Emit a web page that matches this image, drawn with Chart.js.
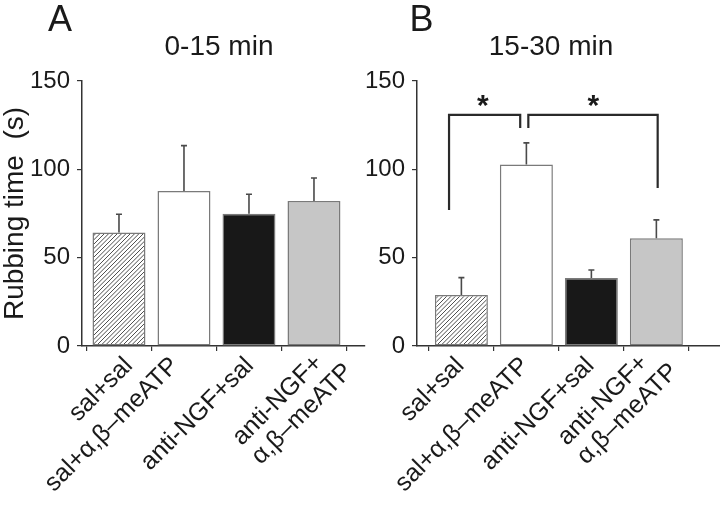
<!DOCTYPE html>
<html><head><meta charset="utf-8">
<script src="https://cdn.jsdelivr.net/npm/chart.js@4/dist/chart.umd.min.js"></script>
<style>
html,body{margin:0;padding:0;background:#fff;}
#wrap{position:relative;width:720px;height:513px;overflow:hidden;background:#fff;}
#cA{position:absolute;left:0;top:0;}
#cB{position:absolute;left:340px;top:0;}
</style></head><body>
<div id="wrap"><canvas id="cA" width="400" height="513"></canvas><canvas id="cB" width="380" height="513"></canvas></div>
<script>
// ---- data ----
const categories = ['sal+sal', 'sal+α,β–meATP', 'anti-NGF+sal', ['anti-NGF+', 'α,β–meATP']];
const panelLetters = ['A', 'B'];
const panelTitles = ['0-15 min', '15-30 min'];
const yTicks = [0, 50, 100, 150];
const yAxisTitle = 'Rubbing time  (s)';
const meansA = [64.2, 87.8, 74.9, 82.1];
const semA = [10.4, 25.6, 11.0, 13.0];
const meansB = [28.9, 102.7, 38.5, 61.0];
const semB = [9.8, 12.3, 4.5, 10.4];
const sigLabel = '*';

// ---- styling ----
const FONT = '"Liberation Sans", Arial, Helvetica, sans-serif';
const TXT = '#1a1a1a';
Chart.defaults.font.family = FONT;
Chart.defaults.color = TXT;

function hatchPattern() {
  const s = 13;
  const c = document.createElement('canvas');
  c.width = s; c.height = s;
  const g = c.getContext('2d');
  g.fillStyle = '#ffffff'; g.fillRect(0, 0, s, s);
  g.strokeStyle = '#3a3a3a'; g.lineWidth = 0.9;
  g.beginPath();
  for (let k = -1; k <= 7; k++) {
    const cc = k * s / 3;
    g.moveTo(cc + 4, -4); g.lineTo(cc - 20, 20);
  }
  g.stroke();
  return g.createPattern(c, 'repeat');
}

const fills = [hatchPattern(), '#ffffff', '#181818', '#c6c6c6'];

const overlay = {
  id: 'overlay',
  afterDatasetsDraw(chart, args, o) {
    const { ctx } = chart;
    const x = chart.scales.x, y = chart.scales.y;
    ctx.save();
    // error bars
    ctx.strokeStyle = '#4a4a4a'; ctx.lineWidth = 1.6;
    o.means.forEach((m, i) => {
      const px = x.getPixelForValue(i);
      const y0 = y.getPixelForValue(m), y1 = y.getPixelForValue(m + o.sem[i]);
      ctx.beginPath();
      ctx.moveTo(px, y0); ctx.lineTo(px, y1);
      ctx.moveTo(px - 3, y1); ctx.lineTo(px + 3, y1);
      ctx.stroke();
    });
    // significance brackets
    if (o.brackets) {
      const br = [
        { x0: -0.19, x1: 0.905, top: 130.8, l: 77, r: 123.4, star: 0.33 },
        { x0: 1.03, x1: 3.02, top: 130.8, l: 123.4, r: 89.5, star: 2.03 }
      ];
      ctx.strokeStyle = '#2a2a2a'; ctx.lineWidth = 2.2;
      br.forEach(b => {
        const X0 = x.getPixelForValue(b.x0), X1 = x.getPixelForValue(b.x1);
        const T = y.getPixelForValue(b.top);
        ctx.beginPath();
        ctx.moveTo(X0, y.getPixelForValue(b.l)); ctx.lineTo(X0, T);
        ctx.lineTo(X1, T); ctx.lineTo(X1, y.getPixelForValue(b.r));
        ctx.stroke();
        ctx.fillStyle = TXT;
        ctx.font = 'bold 30px ' + FONT;
        ctx.textAlign = 'center'; ctx.textBaseline = 'alphabetic';
        ctx.fillText(sigLabel, x.getPixelForValue(b.star), T);
      });
    }
    ctx.restore();
  },
  afterDraw(chart, args, o) {
    const ctx = chart.ctx;
    const x = chart.scales.x, y = chart.scales.y;
    ctx.save();
    ctx.fillStyle = TXT;
    ctx.textAlign = 'center'; ctx.textBaseline = 'alphabetic';
    ctx.font = '36px ' + FONT;
    ctx.fillText(o.letter, o.letterX, 31);
    ctx.font = '28px ' + FONT;
    ctx.fillText(o.title, o.titleX, 55);
    if (o.yTitle) {
      ctx.save();
      ctx.translate(23, (y.top + y.bottom) / 2);
      ctx.rotate(-Math.PI / 2);
      ctx.font = '28px ' + FONT;
      ctx.fillText(o.yTitle, 0, 0);
      ctx.restore();
    }
    // rotated category labels
    ctx.font = '25px ' + FONT;
    ctx.textBaseline = 'top';
    categories.forEach((lab, i) => {
      const ax = x.getPixelForValue(i) - 10 + (o.nudge ? o.nudge[i] : 0);
      const ay = x.top + 7;
      ctx.save();
      ctx.translate(ax, ay);
      ctx.rotate(-Math.PI / 4);
      const lines = Array.isArray(lab) ? lab : [lab];
      if (lines.length === 1) {
        ctx.textAlign = 'right';
        ctx.fillText(lines[0], 0, 0);
      } else {
        const w0 = ctx.measureText(lines[0]).width;
        ctx.textAlign = 'left';
        lines.forEach((t, k) => ctx.fillText(t, -w0 - 6, -9.5 + k * 27));
      }
      ctx.restore();
    });
    ctx.restore();
  }
};

function makeChart(id, means, sem, opts) {
  return new Chart(document.getElementById(id), {
    type: 'bar',
    data: {
      datasets: [{
        data: means.map((v, i) => ({ x: i, y: v })),
        backgroundColor: fills,
        borderColor: '#7a7a7a',
        borderWidth: 1.5,
        borderSkipped: false,
        barPercentage: 0.815,
        categoryPercentage: 1.0
      }]
    },
    options: {
      responsive: false,
      animation: false,
      layout: { padding: { left: 0, top: 81, right: opts.padRight, bottom: 0 } },
      plugins: {
        legend: { display: false },
        tooltip: { enabled: false },
        overlay: { means, sem, letter: opts.letter, letterX: opts.letterX, title: opts.title, titleX: opts.titleX, yTitle: opts.yTitle, brackets: opts.brackets, nudge: opts.nudge }
      },
      scales: {
        x: {
          type: 'linear', min: opts.xmin, max: opts.xmax, offset: false,
          afterBuildTicks: s => { s.ticks = categories.map((_, i) => ({ value: i })); },
          ticks: { display: false },
          grid: { drawOnChartArea: false, drawTicks: true, tickLength: 5, color: '#333', lineWidth: 1.2 },
          border: { display: true, color: '#333', width: 1.5 },
          afterFit: s => { s.height = 167; }
        },
        y: {
          min: 0, max: 150,
          afterBuildTicks: s => { s.ticks = yTicks.map(v => ({ value: v })); },
          ticks: { font: { size: 24, family: FONT }, color: TXT, padding: 7 },
          grid: { drawOnChartArea: false, drawTicks: true, tickLength: 5, color: '#333', lineWidth: 1.2 },
          border: { display: true, color: '#333', width: 1.5 },
          afterFit: s => { s.width = opts.yWidth; }
        }
      }
    },
    plugins: [overlay]
  });
}

makeChart('cA', meansA, semA, {
  padRight: 35, xmin: -0.569, xmax: 3.785, yWidth: 82,
  letter: panelLetters[0], letterX: 60, title: panelTitles[0], titleX: 219, yTitle: yAxisTitle, brackets: false,
  nudge: [11, -8, 2, 17]
});
makeChart('cB', meansB, semB, {
  padRight: 0, xmin: -0.683, xmax: 3.979, yWidth: 77,
  letter: panelLetters[1], letterX: 81.5, title: panelTitles[1], titleX: 211, yTitle: null, brackets: true,
  nudge: [0, 0, 0, 0]
});
</script>
</body></html>
